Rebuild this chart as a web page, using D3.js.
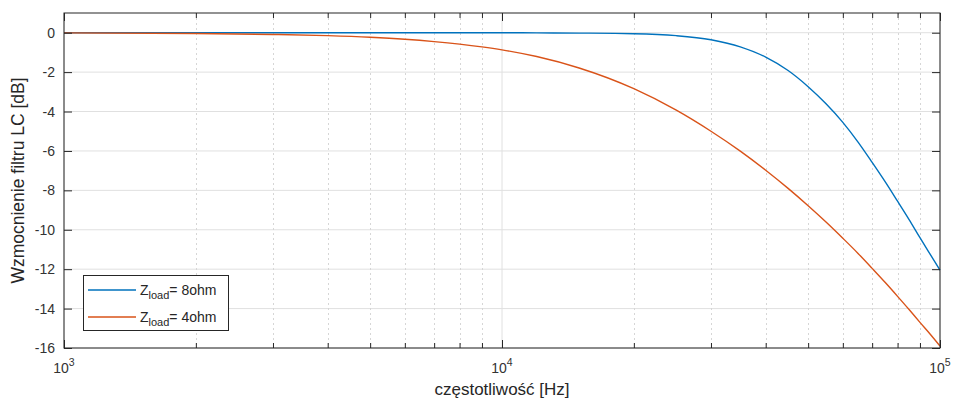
<!DOCTYPE html>
<html>
<head>
<meta charset="utf-8">
<script src="https://cdn.jsdelivr.net/npm/d3@7/dist/d3.min.js"></script>
<style>
  html, body { margin: 0; padding: 0; background: #fff; }
  svg { display: block; font-family: "Liberation Sans", Arial, Helvetica, sans-serif; }
</style>
</head>
<body>
<svg id="chart" width="955" height="401"></svg>
<script>
// ---- data ----
const freqs = [1000, 2000, 3000, 4000, 5000, 6000, 7000, 8000, 9000, 10000, 12000, 15000, 20000, 25000, 30000, 35000, 40000, 45000, 50000, 55000, 60000, 65000, 70000, 75000, 80000, 85000, 90000, 95000, 100000];
const gain8ohm = [0, 0, 0, 0, 0, 0, 0, 0, 0, 0, -0.01, -0.02, -0.05, -0.15, -0.36, -0.72, -1.24, -1.92, -2.74, -3.62, -4.55, -5.55, -6.58, -7.57, -8.55, -9.48, -10.4, -11.25, -12.05];
const gain4ohm = [-0.01, -0.04, -0.09, -0.15, -0.23, -0.33, -0.45, -0.58, -0.72, -0.87, -1.21, -1.79, -2.84, -3.93, -5.0, -6.01, -6.98, -7.9, -8.78, -9.62, -10.43, -11.2, -11.96, -12.68, -13.38, -14.05, -14.7, -15.3, -15.9];
const seriesNames = ["8ohm", "4ohm"];
const seriesColors = ["#0072BD", "#D95319"];
const xMajorTicks = [1000, 10000, 100000];
const xMajorExp = ["3", "4", "5"];
const xMinorTicks = [2000,3000,4000,5000,6000,7000,8000,9000,20000,30000,40000,50000,60000,70000,80000,90000];
const yTicks = [-16, -14, -12, -10, -8, -6, -4, -2, 0];
const xDomain = [1000, 100000];
const yDomain = [-16, 1];
const xLabel = "częstotliwość [Hz]";
const yLabel = "Wzmocnienie filtru LC [dB]";

// ---- layout ----
const svg = d3.select("#chart");
const L = 64, T = 13, R = 940, B = 348;
const x = d3.scaleLog().domain(xDomain).range([L, R]);
const y = d3.scaleLinear().domain(yDomain).range([B, T]);
const axisColor = "#262626";
const gridColor = "#e0e0e0";

// grid
const grid = svg.append("g");
grid.selectAll(".ymaj").data(yTicks).join("line")
  .attr("x1", L).attr("x2", R)
  .attr("y1", d => y(d)).attr("y2", d => y(d))
  .attr("stroke", gridColor).attr("stroke-width", 1);
grid.selectAll(".xmin").data(xMinorTicks).join("line")
  .attr("x1", d => Math.round(x(d)) + 0.5).attr("x2", d => Math.round(x(d)) + 0.5)
  .attr("y1", T).attr("y2", B)
  .attr("stroke", "#d6d6d6").attr("stroke-width", 1).attr("stroke-dasharray", "2,3");
grid.selectAll(".xmaj").data(xMajorTicks).join("line")
  .attr("x1", d => x(d)).attr("x2", d => x(d))
  .attr("y1", T).attr("y2", B)
  .attr("stroke", gridColor).attr("stroke-width", 1);

// lines
const data = [gain8ohm, gain4ohm];
const line = d3.line()
  .x((d, i) => x(freqs[i]))
  .y(d => y(d))
  .curve(d3.curveMonotoneX);
svg.append("g").selectAll("path").data(data).join("path")
  .attr("d", d => line(d))
  .attr("fill", "none")
  .attr("stroke", (d, i) => seriesColors[i])
  .attr("stroke-width", 1.4);

// axes (ticks inward)
const majLen = 8, minLen = 5;
function styleAxis(g) {
  g.select(".domain").remove();
  g.selectAll(".tick line").attr("stroke", axisColor);
  g.selectAll(".tick text").remove();
}
svg.append("g").attr("transform", `translate(0,${B})`)
  .call(d3.axisBottom(x).tickValues(xMajorTicks).tickSize(-majLen)).call(styleAxis);
svg.append("g").attr("transform", `translate(0,${B})`)
  .call(d3.axisBottom(x).tickValues(xMinorTicks).tickSize(-minLen)).call(styleAxis);
svg.append("g").attr("transform", `translate(0,${T})`)
  .call(d3.axisTop(x).tickValues(xMajorTicks).tickSize(-majLen)).call(styleAxis);
svg.append("g").attr("transform", `translate(0,${T})`)
  .call(d3.axisTop(x).tickValues(xMinorTicks).tickSize(-minLen)).call(styleAxis);
svg.append("g").attr("transform", `translate(${L},0)`)
  .call(d3.axisLeft(y).tickValues(yTicks).tickSize(-majLen)).call(styleAxis);
svg.append("g").attr("transform", `translate(${R},0)`)
  .call(d3.axisRight(y).tickValues(yTicks).tickSize(-majLen)).call(styleAxis);

// box
svg.append("rect").attr("x", L).attr("y", T).attr("width", R - L).attr("height", B - T)
  .attr("fill", "none").attr("stroke", axisColor).attr("stroke-width", 1);

// y tick labels
svg.append("g").selectAll("text").data(yTicks).join("text")
  .attr("x", L - 9).attr("y", d => y(d)).attr("dy", "0.36em")
  .attr("text-anchor", "end").attr("font-size", 14).attr("fill", "#333")
  .text(d => d);

// x tick labels with superscripts
const xl = svg.append("g").selectAll("text").data(xMajorTicks).join("text")
  .attr("x", d => x(d)).attr("y", 373)
  .attr("text-anchor", "middle").attr("font-size", 14).attr("fill", "#333");
xl.append("tspan").text("10");
xl.append("tspan").attr("dy", -7).attr("font-size", 10.5).text((d, i) => xMajorExp[i]);

// axis labels
svg.append("text").attr("x", 502).attr("y", 395)
  .attr("text-anchor", "middle").attr("font-size", 17).attr("fill", "#262626").text(xLabel);
svg.append("text").attr("transform", `translate(24,${(T + B) / 2}) rotate(-90)`)
  .attr("text-anchor", "middle").attr("font-size", 17.5).attr("fill", "#262626").text(yLabel);

// legend
const lg = svg.append("g");
lg.append("rect").attr("x", 83.5).attr("y", 275.5).attr("width", 145).attr("height", 55)
  .attr("fill", "#fff").attr("stroke", axisColor).attr("stroke-width", 1);
seriesNames.forEach((name, i) => {
  const yy = 290 + i * 27;
  lg.append("line").attr("x1", 88).attr("x2", 136).attr("y1", yy).attr("y2", yy)
    .attr("stroke", seriesColors[i]).attr("stroke-width", 1.4);
  const t = lg.append("text").attr("x", 140).attr("y", yy + 5)
    .attr("font-size", 14).attr("fill", "#262626");
  t.append("tspan").text("Z");
  t.append("tspan").attr("dy", 4).attr("font-size", 11).text("load");
  t.append("tspan").attr("dy", -4).text("= " + name);
});
</script>
</body>
</html>
